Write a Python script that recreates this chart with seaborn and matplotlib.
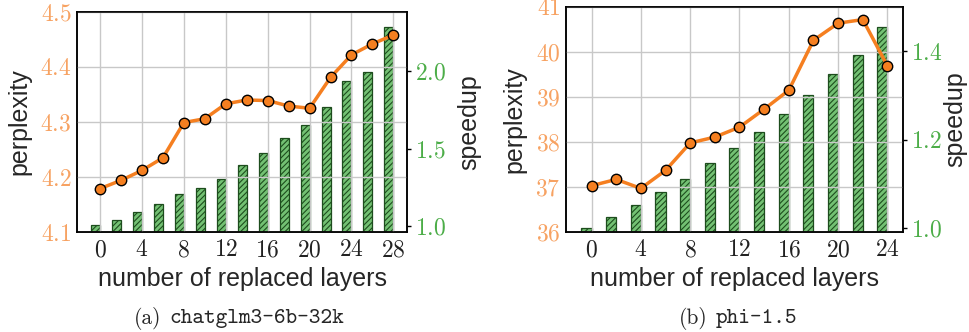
import numpy as np
import pandas as pd
import matplotlib
matplotlib.use('Agg')
import matplotlib.pyplot as plt
import seaborn as sns
from matplotlib.ticker import FixedLocator, FuncFormatter

# data
layers_glm = [0, 2, 4, 6, 8, 10, 12, 14, 16, 18, 20, 22, 24, 26, 28]
ppl_glm = [4.179, 4.194, 4.212, 4.235, 4.299, 4.306, 4.333, 4.340, 4.339,
           4.329, 4.325, 4.381, 4.422, 4.442, 4.458]
speedup_glm = [1.011, 1.043, 1.094, 1.146, 1.210, 1.247, 1.307, 1.397, 1.472,
               1.571, 1.655, 1.768, 1.933, 1.996, 2.285]

layers_phi = [0, 2, 4, 6, 8, 10, 12, 14, 16, 18, 20, 22, 24]
ppl_phi = [37.03, 37.17, 36.97, 37.37, 37.98, 38.11, 38.33, 38.73, 39.15,
           40.26, 40.64, 40.72, 39.69]
speedup_phi = [1.000, 1.025, 1.052, 1.082, 1.110, 1.146, 1.181, 1.217, 1.257,
               1.301, 1.348, 1.392, 1.456]

xticks_glm = [0, 4, 8, 12, 16, 20, 24, 28]
xticks_phi = [0, 4, 8, 12, 16, 20, 24]
ppl_ticks_glm = [4.1, 4.2, 4.3, 4.4, 4.5]
ppl_ticks_phi = [36, 37, 38, 39, 40, 41]
sp_ticks_glm = [1.0, 1.5, 2.0]
sp_ticks_phi = [1.0, 1.2, 1.4]

sns.set_style("white")
plt.rcParams['font.family'] = ['Liberation Sans', 'DejaVu Sans']
plt.rcParams['mathtext.fontset'] = 'cm'

ORANGE = '#f57f20'
ORANGE_TXT = '#f7a262'
GREEN_TXT = '#4cad48'
BAR_FACE = '#73c173'
BAR_EDGE = '#1d4d1d'
plt.rcParams['hatch.color'] = BAR_EDGE
plt.rcParams['hatch.linewidth'] = 0.8

fig = plt.figure(figsize=(9.69, 3.32), dpi=100)


def panel(rect, layers, ppl, speedup, xlim, ylim, ylim2, xt, yt, yt2,
          fmt, fmt2, bar_w, pad2):
    ax = fig.add_axes(rect)
    ax2 = ax.twinx()
    ax.set_zorder(ax2.get_zorder() + 1)
    ax.patch.set_visible(False)

    ax2.bar(layers, speedup, width=-bar_w, align='edge', color=BAR_FACE,
            edgecolor=BAR_EDGE, hatch='//////', linewidth=0.9)
    df = pd.DataFrame({'layers': layers, 'ppl': ppl})
    sns.lineplot(data=df, x='layers', y='ppl', ax=ax, color=ORANGE, lw=2.5,
                 marker='o', markersize=7.5, markerfacecolor=ORANGE,
                 markeredgecolor='black', markeredgewidth=1.0)

    ax.set_xlim(*xlim)
    ax.set_ylim(*ylim)
    ax2.set_ylim(*ylim2)
    ax.xaxis.set_major_locator(FixedLocator(xt))
    ax.yaxis.set_major_locator(FixedLocator(yt))
    ax2.yaxis.set_major_locator(FixedLocator(yt2))
    ax.xaxis.set_major_formatter(FuncFormatter(lambda v, p: f"${v:.0f}$"))
    ax.yaxis.set_major_formatter(FuncFormatter(lambda v, p: fmt.format(v)))
    ax2.yaxis.set_major_formatter(FuncFormatter(lambda v, p: fmt2.format(v)))

    ax.grid(True, color='#c8c8c8', lw=1.0)
    ax.tick_params(axis='x', length=0, pad=5, labelsize=17, labelcolor='#222222')
    ax.tick_params(axis='y', length=0, pad=4, labelsize=17, labelcolor=ORANGE_TXT)
    ax2.tick_params(axis='y', length=3, width=1, direction='out', pad=3,
                    labelsize=17, labelcolor=GREEN_TXT, color='black', right=True)
    for a in (ax, ax2):
        for s in a.spines.values():
            s.set_color('black')
            s.set_linewidth(1.1)

    ax.set_xlabel('number of replaced layers', fontsize=18, labelpad=4)
    ax.set_ylabel('perplexity', fontsize=18, labelpad=6)
    ax2.set_ylabel('speedup', fontsize=18, labelpad=pad2)
    return ax, ax2


panel([0.0795, 0.301, 0.3405, 0.663], layers_glm, ppl_glm, speedup_glm,
      (-2.2, 29.3), (4.1, 4.5), (0.9635, 2.38),
      xticks_glm, ppl_ticks_glm, sp_ticks_glm, "${:.1f}$", "${:.1f}$", 0.86, 8)

panel([0.584, 0.301, 0.348, 0.678], layers_phi, ppl_phi, speedup_phi,
      (-2.08, 25.27), (36, 41), (0.99, 1.501),
      xticks_phi, ppl_ticks_phi, sp_ticks_phi, "${:.0f}$", "${:.1f}$", 0.82, 0)

# sub-captions
W, H = 969, 332
fig.text(161 / W, 1 - 318 / H, '(a)', family='cmr10', fontsize=15.5,
         ha='right', va='center')
fig.text(169 / W, 1 - 318 / H, 'chatglm3-6b-32k', family='cmtt10', fontsize=16,
         ha='left', va='center')
fig.text(708 / W, 1 - 318 / H, '(b)', family='cmr10', fontsize=15.5,
         ha='right', va='center')
fig.text(716 / W, 1 - 318 / H, 'phi-1.5', family='cmtt10', fontsize=16,
         ha='left', va='center')

plt.savefig('out.png', dpi=100)
